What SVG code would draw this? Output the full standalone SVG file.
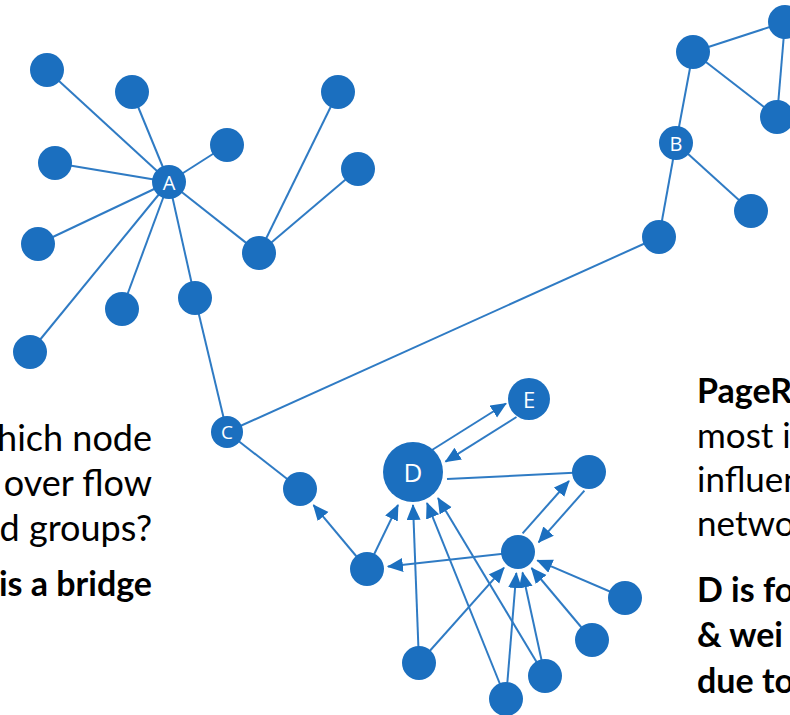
<svg xmlns="http://www.w3.org/2000/svg" width="790" height="715" viewBox="0 0 790 715">
<style>
.e{stroke:#2f7bc4;stroke-width:2;fill:none}
.a{stroke:#2f7bc4;stroke-width:2;fill:none;marker-end:url(#arr)}
.n{fill:#1b6fbf}
.lb{fill:#ffffff;font-family:"Open Sans","Noto Sans",sans-serif;text-anchor:middle;dominant-baseline:central}
.t{font-family:Lato,"Liberation Sans",sans-serif;font-size:35px;fill:#000}
.b{font-weight:bold;font-size:34px}
</style>
<defs>
<marker id="arr" markerUnits="userSpaceOnUse" markerWidth="17" markerHeight="15" refX="15" refY="7" orient="auto">
<path d="M0,0 L16,7 L0,14 z" fill="#1b6fbf"/>
</marker>
</defs>
<rect width="790" height="715" fill="#ffffff"/>
<g id="connectors">
<line class="e" x1="169" y1="182" x2="47" y2="70"/>
<line class="e" x1="169" y1="182" x2="132" y2="92"/>
<line class="e" x1="169" y1="182" x2="55" y2="163"/>
<line class="e" x1="169" y1="182" x2="227" y2="145"/>
<line class="e" x1="169" y1="182" x2="38" y2="244"/>
<line class="e" x1="169" y1="182" x2="30" y2="352"/>
<line class="e" x1="169" y1="182" x2="122" y2="309"/>
<line class="e" x1="169" y1="182" x2="195" y2="298"/>
<line class="e" x1="169" y1="182" x2="259" y2="253"/>
<line class="e" x1="259" y1="253" x2="338" y2="92"/>
<line class="e" x1="259" y1="253" x2="358" y2="169"/>
<line class="e" x1="195" y1="298" x2="227" y2="432"/>
<line class="e" x1="227" y1="432" x2="659" y2="237"/>
<line class="e" x1="659" y1="237" x2="676" y2="143"/>
<line class="e" x1="676" y1="143" x2="751" y2="211"/>
<line class="e" x1="676" y1="143" x2="693" y2="52"/>
<line class="e" x1="693" y1="52" x2="785" y2="22"/>
<line class="e" x1="693" y1="52" x2="777" y2="117"/>
<line class="e" x1="785" y1="22" x2="777" y2="117"/>
<line class="e" x1="227" y1="432" x2="300" y2="489"/>
<line class="e" x1="447" y1="479" x2="589" y2="472"/>
<line class="a" x1="367" y1="569" x2="398" y2="505"/>
<line class="a" x1="419" y1="663" x2="413" y2="505"/>
<line class="a" x1="506" y1="699" x2="427" y2="503"/>
<line class="a" x1="545" y1="676" x2="438" y2="498"/>
<line class="a" x1="367" y1="569" x2="313.5" y2="505.1"/>
<line class="a" x1="518" y1="552" x2="387.9" y2="566.6"/>
<line class="a" x1="625" y1="598" x2="537.3" y2="560.3"/>
<line class="a" x1="592" y1="640" x2="531.5" y2="568"/>
<line class="a" x1="545" y1="676" x2="522.5" y2="572.5"/>
<line class="a" x1="506" y1="699" x2="516.3" y2="573"/>
<line class="a" x1="419" y1="663" x2="504" y2="567.7"/>
<line class="a" x1="522.6" y1="533.3" x2="569" y2="481"/>
<line class="a" x1="584.4" y1="490.7" x2="538.6" y2="542.3"/>
<line class="a" x1="432" y1="450" x2="506" y2="403.5"/>
<line class="a" x1="516.5" y1="417" x2="445.5" y2="461.6"/>
</g>
<g id="n1"><circle class="n" cx="47" cy="70" r="17"/></g>
<g id="n2"><circle class="n" cx="132" cy="92" r="17"/></g>
<g id="n3"><circle class="n" cx="55" cy="163" r="17"/></g>
<g id="n4"><circle class="n" cx="227" cy="145" r="17"/></g>
<g id="n5"><circle class="n" cx="338" cy="92" r="17"/></g>
<g id="n6"><circle class="n" cx="358" cy="169" r="17"/></g>
<g id="n7"><circle class="n" cx="38" cy="244" r="17"/></g>
<g id="n8"><circle class="n" cx="259" cy="253" r="17"/></g>
<g id="n9"><circle class="n" cx="122" cy="309" r="17"/></g>
<g id="n10"><circle class="n" cx="195" cy="298" r="17"/></g>
<g id="n11"><circle class="n" cx="30" cy="352" r="17"/></g>
<g id="nodeA"><circle class="n" cx="169" cy="182" r="17"/><text class="lb" x="169" y="182" font-size="20">A</text></g>
<g id="nodeC"><circle class="n" cx="227" cy="432" r="16"/><text class="lb" x="227" y="432" font-size="19">C</text></g>
<g id="nodeB"><circle class="n" cx="676" cy="143" r="17"/><text class="lb" x="676" y="143" font-size="20">B</text></g>
<g id="n12"><circle class="n" cx="693" cy="52" r="17"/></g>
<g id="n13"><circle class="n" cx="785" cy="22" r="17"/></g>
<g id="n14"><circle class="n" cx="777" cy="117" r="17"/></g>
<g id="n15"><circle class="n" cx="751" cy="211" r="17"/></g>
<g id="n16"><circle class="n" cx="659" cy="237" r="17"/></g>
<g id="nodeE"><circle class="n" cx="529" cy="399" r="21"/><text class="lb" x="529" y="399" font-size="22">E</text></g>
<g id="nodeD"><circle class="n" cx="413" cy="472" r="30"/><text class="lb" x="413" y="472" font-size="26">D</text></g>
<g id="n17"><circle class="n" cx="300" cy="489" r="17"/></g>
<g id="n18"><circle class="n" cx="589" cy="472" r="17"/></g>
<g id="n19"><circle class="n" cx="518" cy="552" r="17"/></g>
<g id="n20"><circle class="n" cx="367" cy="569" r="17"/></g>
<g id="n21"><circle class="n" cx="625" cy="598" r="17"/></g>
<g id="n22"><circle class="n" cx="592" cy="640" r="17"/></g>
<g id="n23"><circle class="n" cx="419" cy="663" r="17"/></g>
<g id="n24"><circle class="n" cx="545" cy="676" r="17"/></g>
<g id="n25"><circle class="n" cx="506" cy="699" r="17"/></g>
<g id="textLeft" class="t">
<text x="152" y="451" text-anchor="end" font-size="36">hich node</text>
<text x="152" y="496" text-anchor="end" font-size="36">over flow</text>
<text x="152" y="541" text-anchor="end" font-size="36">d groups?</text>
<text class="b" x="152" y="596" text-anchor="end">is a bridge</text>
</g>
<g id="textRight" class="t">
<text class="b" x="697" y="403">PageR</text>
<text x="697" y="448">most i</text>
<text x="697" y="492">influen</text>
<text x="697" y="536">netwo</text>
<text class="b" x="697" y="602">D is fo</text>
<text class="b" x="697" y="647">&amp; wei</text>
<text class="b" x="697" y="693">due to</text>
</g>
</svg>
